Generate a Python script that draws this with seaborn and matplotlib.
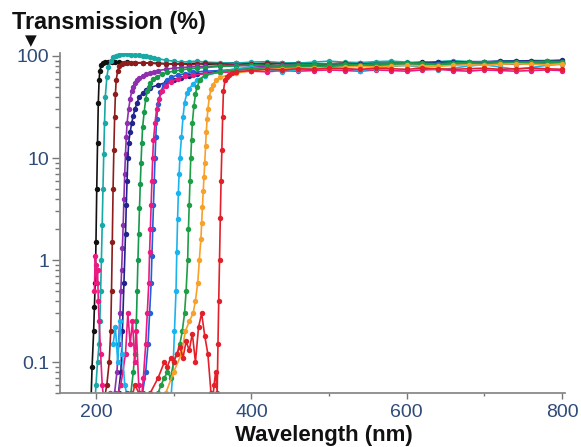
import numpy as np
import pandas as pd
import matplotlib
matplotlib.use("Agg")
import matplotlib.pyplot as plt
import seaborn as sns
from matplotlib.ticker import LogLocator, FixedLocator, FixedFormatter

# ---------------- data ----------------
tail_wl = [360, 380, 400, 420, 440, 460, 480, 500, 520, 540, 560, 580,
           600, 620, 640, 660, 680, 700, 720, 740, 760, 780, 800]

black_wl = [193, 195, 197, 198, 199, 200, 201, 202, 203, 204, 205, 207, 209, 212, 216,
            220, 225, 230, 240, 250, 260, 270, 280, 290, 300, 310, 320, 330, 340]
black_T = [0.03, 0.09, 0.2, 0.35, 0.6, 1.5, 5, 14, 35, 58, 72, 82, 86, 88, 88,
           88, 88, 87, 87, 86, 86, 85, 85, 84, 84, 83, 84, 85, 83]
black_tail = [84, 86, 84, 83, 85, 86, 84, 83, 85, 86, 85, 84, 85, 87, 85, 84, 86, 87,
              86, 85, 86, 85, 86]

teal_wl = [198, 200, 202, 204, 205, 206, 207, 208, 209, 210, 211, 212, 214, 216, 219,
           222, 226, 230, 235, 240, 245, 250, 255, 260, 265, 270, 275, 280, 290, 300,
           310, 320, 330, 340]
teal_T = [0.03, 0.06, 0.1, 0.15, 0.25, 0.5, 1.0, 2.2, 5, 11, 22, 40, 62, 78, 90,
          97, 101, 103, 104, 104, 103, 103, 102, 101, 100, 98, 96, 94, 91, 89,
          87, 88, 89, 87]
teal_tail = [86, 85, 87, 88, 86, 85, 87, 89, 87, 86, 88, 89, 87, 86, 88, 90, 88, 87,
             89, 90, 89, 88, 90]

maroon_wl = [205, 210, 214, 217, 219, 220, 221, 222, 223, 224, 225, 226, 228, 230, 233,
             236, 240, 245, 250, 260, 270, 280, 290, 300, 310, 320, 330, 340]
maroon_T = [0.03, 0.04, 0.06, 0.1, 0.2, 0.5, 1.5, 5, 12, 25, 42, 58, 72, 80, 84,
            85, 86, 86, 85, 86, 85, 84, 84, 83, 84, 82, 83, 85]
maroon_tail = [84, 82, 83, 85, 84, 83, 82, 84, 85, 83, 82, 84, 85, 84, 83, 84, 85, 84,
               83, 84, 85, 84, 83]

purple_wl = [220, 224, 227, 229, 231, 232, 233, 234, 235, 236, 237, 238, 239, 240, 242,
             244, 246, 248, 250, 253, 256, 260, 265, 270, 275, 280, 290, 300, 310, 320,
             330, 340]
purple_T = [0.03, 0.05, 0.08, 0.15, 0.3, 0.5, 0.8, 1.3, 2.2, 4, 7, 11, 16, 22, 30,
            38, 45, 50, 54, 58, 61, 64, 66, 68, 70, 72, 74, 76, 77, 78,
            79, 79]
purple_tail = [80, 81, 80, 79, 81, 82, 81, 80, 82, 83, 82, 81, 83, 84, 83, 82, 84, 85,
               84, 83, 85, 86, 85]

navy_wl = [225, 229, 232, 234, 236, 238, 239, 240, 241, 242, 244, 246, 248, 250, 253,
           256, 260, 265, 270, 280, 290, 300, 310, 320, 330, 340]
navy_T = [0.03, 0.05, 0.08, 0.2, 0.6, 1.8, 3.5, 6, 10, 14, 18, 22, 26, 30, 35,
          40, 43, 46, 49, 52, 55, 58, 61, 63, 66, 68]
navy_tail = [71, 73, 75, 76, 78, 79, 80, 81, 82, 83, 84, 85, 85, 86, 87, 87, 88, 88,
             89, 89, 90, 90, 91]

green_wl = [240, 245, 248, 250, 252, 253, 254, 255, 256, 257, 258, 259, 260, 262, 264,
            266, 268, 270, 274, 278, 285, 292, 300, 310, 320, 330, 340]
green_T = [0.03, 0.05, 0.08, 0.12, 0.25, 0.5, 1.0, 1.8, 3.2, 5.5, 9, 14, 20, 28, 38,
           45, 50, 54, 59, 62, 66, 69, 71, 73, 75, 76, 77]
green_tail = [79, 80, 82, 81, 80, 82, 83, 84, 83, 82, 84, 85, 86, 85, 84, 86, 87, 88,
              87, 86, 88, 89, 88]

blue_wl = [255, 260, 264, 267, 269, 271, 272, 273, 274, 275, 276, 277, 278, 280, 283,
           287, 292, 297, 305, 315, 325, 340]
blue_T = [0.03, 0.05, 0.08, 0.15, 0.3, 0.6, 1.1, 2, 3.5, 6, 10, 16, 24, 34, 44,
          52, 58, 62, 65, 67, 69, 71]
blue_tail = [72, 74, 75, 76, 77, 78, 78, 79, 80, 80, 81, 81, 82, 82, 83, 83, 84, 84,
             84, 85, 85, 85, 86]

magenta_wl = [198, 199, 200, 201, 202, 203, 204, 206, 208, 212, 218, 225, 232, 238, 241,
              244, 247, 250, 252, 255, 258, 261, 264, 266, 268, 269, 270, 271, 272, 273,
              274, 276, 278, 281, 285, 290, 296, 305, 315, 325, 340]
magenta_T = [0.5, 1.1, 0.9, 0.6, 0.8, 0.4, 0.25, 0.12, 0.06, 0.03, 0.05, 0.04, 0.06, 0.12, 0.3,
             0.15, 0.25, 0.1, 0.2, 0.06, 0.04, 0.07, 0.15, 0.3, 0.6, 1.2, 2, 3.5, 6, 10,
             15, 22, 30, 38, 45, 51, 56, 60, 63, 65, 67]
magenta_tail = [69, 70, 71, 70, 72, 71, 72, 73, 72, 71, 73, 72, 71, 73, 74, 72, 71, 73,
                72, 71, 72, 73, 72]

sky_wl = [222, 225, 228, 231, 234, 237, 242, 250, 260, 270, 280, 290, 296, 299, 301,
          303, 304, 305, 306, 307, 308, 310, 312, 314, 317, 320, 325, 330, 340]
sky_T = [0.15, 0.22, 0.1, 0.25, 0.12, 0.06, 0.04, 0.03, 0.03, 0.03, 0.03, 0.03, 0.04, 0.08, 0.2,
         0.5, 1.2, 2.5, 4.5, 7, 10, 16, 25, 35, 43, 48, 53, 58, 64]
sky_tail = [70, 75, 78, 74, 70, 73, 77, 80, 76, 72, 75, 79, 81, 77, 73, 76, 80, 82,
            78, 74, 77, 81, 83]

green2_wl = [270, 275, 280, 284, 288, 292, 296, 300, 304, 308, 311, 314, 316, 318, 319,
             320, 321, 322, 323, 324, 326, 328, 330, 334, 340]
green2_T = [0.03, 0.04, 0.05, 0.06, 0.07, 0.08, 0.07, 0.1, 0.12, 0.15, 0.2, 0.3, 0.5, 1.0, 2,
            3.5, 6, 10, 15, 22, 32, 42, 50, 58, 65]
green2_tail = [70, 73, 75, 77, 78, 79, 80, 79, 81, 82, 81, 83, 84, 83, 82, 84, 85, 84,
               86, 87, 86, 85, 87]

orange_wl = [290, 300, 310, 315, 320, 325, 328, 331, 333, 335, 336, 337, 338, 339, 340,
             341, 342, 343, 344, 346, 348, 350, 355]
orange_T = [0.05, 0.08, 0.12, 0.2, 0.25, 0.3, 0.4, 0.6, 1.0, 1.6, 2.3, 3.3, 4.7, 6.5, 9,
            13, 18, 24, 30, 40, 47, 52, 58]
orange_tail = [62, 68, 72, 74, 75, 76, 77, 76, 78, 79, 78, 80, 81, 80, 79, 81, 82, 81,
               83, 84, 83, 82, 84]

red_wl = [240, 245, 250, 255, 260, 270, 280, 288, 292, 296, 300, 304, 308, 312, 316,
          320, 324, 328, 332, 336, 340, 344, 348, 350, 352, 354, 356, 357, 358, 359,
          360, 361, 362, 363, 364, 366, 368, 371, 375]
red_T = [0.05, 0.04, 0.06, 0.05, 0.04, 0.05, 0.07, 0.1, 0.09, 0.11, 0.1, 0.12, 0.14, 0.11, 0.16,
         0.13, 0.19, 0.1, 0.22, 0.3, 0.18, 0.12, 0.05, 0.04, 0.06, 0.08, 0.05, 0.15, 0.4, 1.0,
         2.6, 6, 12, 25, 45, 58, 62, 65, 68]
red_tail_wl = [380, 400, 420, 440, 460, 480, 500, 520, 540, 560, 580,
               600, 620, 640, 660, 680, 700, 720, 740, 760, 780, 800]
red_tail = [70, 72, 74, 73, 75, 74, 76, 75, 74, 76, 75, 74, 76, 75, 74, 75, 76, 74,
            75, 76, 75, 74]

series = [
    ("black", black_wl + tail_wl, black_T + black_tail, "#111111"),
    ("teal", teal_wl + tail_wl, teal_T + teal_tail, "#17a9a6"),
    ("maroon", maroon_wl + tail_wl, maroon_T + maroon_tail, "#8e1c1c"),
    ("purple", purple_wl + tail_wl, purple_T + purple_tail, "#8f2fae"),
    ("navy", navy_wl + tail_wl, navy_T + navy_tail, "#23238f"),
    ("green", green_wl + tail_wl, green_T + green_tail, "#15994a"),
    ("blue", blue_wl + tail_wl, blue_T + blue_tail, "#2160d8"),
    ("magenta", magenta_wl + tail_wl, magenta_T + magenta_tail, "#ec1a80"),
    ("sky", sky_wl + tail_wl, sky_T + sky_tail, "#1bb3ee"),
    ("green2", green2_wl + tail_wl, green2_T + green2_tail, "#1f9e45"),
    ("orange", orange_wl + tail_wl, orange_T + orange_tail, "#f7a12a"),
    ("red", red_wl + red_tail_wl, red_T + red_tail, "#e3202a"),
]

rows = []
for name, wl, T, _ in series:
    for w, t in zip(wl, T):
        rows.append((name, w, t))
df = pd.DataFrame(rows, columns=["series", "wl", "T"])
palette = {name: c for name, _, _, c in series}
order = [s[0] for s in series]

# ---------------- figure ----------------
sns.set_style("white")
plt.rcParams["font.family"] = ["Liberation Sans", "DejaVu Sans"]

fig = plt.figure(figsize=(5.81, 4.47), dpi=100)
ax = fig.add_axes([60 / 581, 1 - 393 / 447, 505 / 581, 340 / 447])

sns.lineplot(data=df, x="wl", y="T", hue="series", hue_order=order, palette=palette,
             estimator=None, sort=False, marker="o", markersize=3.9,
             markeredgewidth=0, linewidth=1.2, legend=False, ax=ax)

ax.set_yscale("log")
ax.set_xlim(153.7, 803.6)
ax.set_ylim(0.0497, 107)

tick_col = "#2f4b78"
ax.yaxis.set_major_locator(FixedLocator([0.1, 1, 10, 100]))
ax.yaxis.set_major_formatter(FixedFormatter(["0.1", "1", "10", "100"]))
ax.yaxis.set_minor_locator(LogLocator(base=10, subs=np.arange(2, 10) * 1.0, numticks=20))
ax.yaxis.set_minor_formatter(plt.NullFormatter())
ax.xaxis.set_major_locator(FixedLocator([200, 400, 600, 800]))
ax.xaxis.set_minor_locator(FixedLocator([300, 500, 700]))

ax.tick_params(axis="y", which="major", direction="out", length=6, width=1.0,
               color="#777777", labelsize=14, labelcolor=tick_col, pad=2, left=True)
ax.tick_params(axis="y", which="minor", direction="out", length=3.5, width=1.0,
               color="#777777", left=True)
ax.tick_params(axis="x", which="major", direction="out", length=4, width=1.0,
               color="#777777", labelsize=14, labelcolor=tick_col, pad=4, bottom=True)
ax.tick_params(axis="x", which="minor", direction="out", length=2.5, width=1.0,
               color="#777777", bottom=True)

for s in ["top", "right"]:
    ax.spines[s].set_visible(False)
for s in ["left", "bottom"]:
    ax.spines[s].set_color("#8a8a8a")
    ax.spines[s].set_linewidth(1.3)
ax.set_xlabel("")
ax.set_ylabel("")

fig.text(12 / 581, 1 - 22 / 447, "Transmission (%)", fontsize=16.8, fontweight="bold",
         ha="left", va="center", color="#111111")
fig.text(31 / 581, 1 - 41 / 447, "\u25BC", fontsize=11, ha="center", va="center",
         color="#111111", family=["DejaVu Sans"])
fig.text(324 / 581, 1 - 441 / 447, "Wavelength (nm)", fontsize=16, fontweight="bold",
         ha="center", va="baseline", color="#111111")

fig.savefig("out.png", dpi=100)
